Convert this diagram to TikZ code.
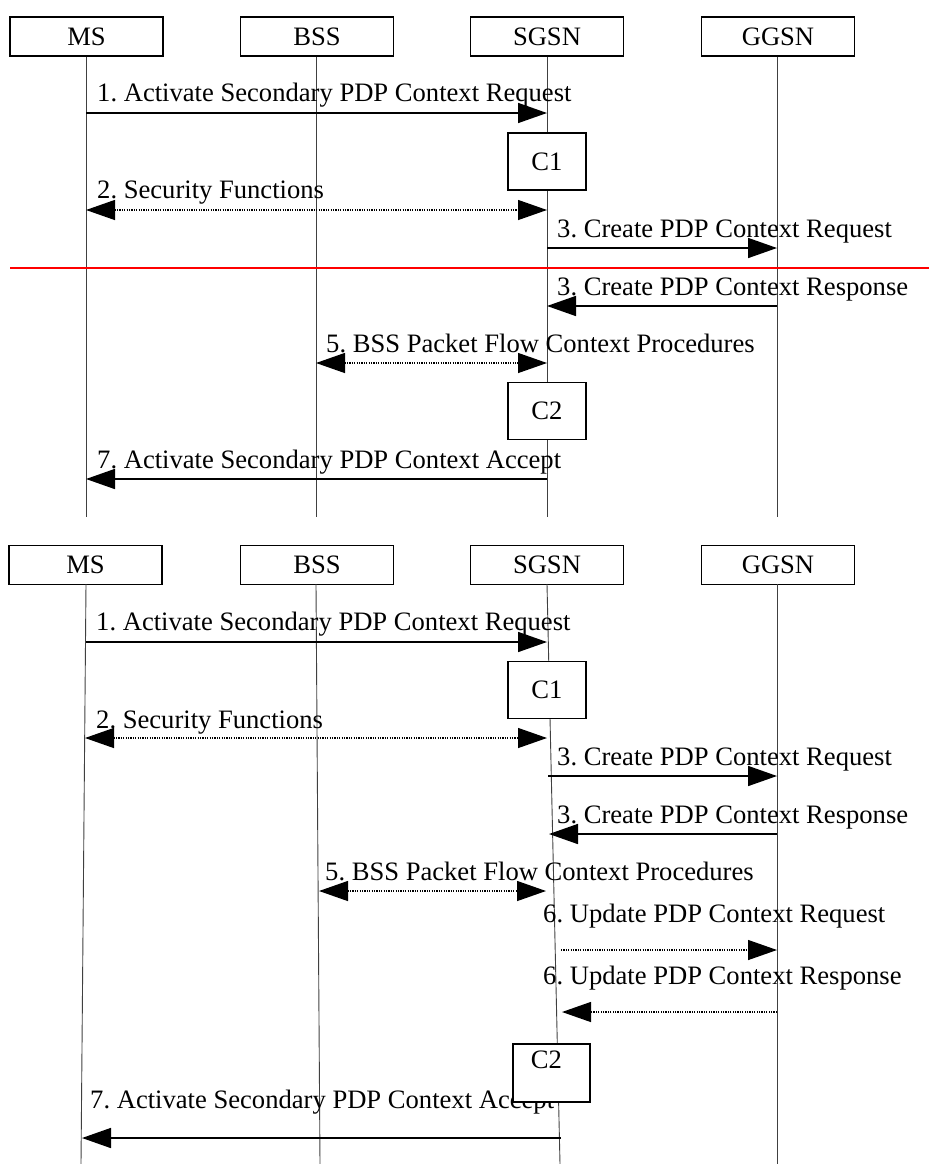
\documentclass[tikz,border=0pt]{standalone}
\usepackage{fontspec}
\setmainfont{Liberation Serif}
\usetikzlibrary{arrows.meta}
\frenchspacing
\begin{document}
\begin{tikzpicture}[x=1pt,y=-1pt,
  txt/.style={font=\fontsize{26.6}{31}\selectfont},
  actor/.style={txt, draw, line width=1.3pt, fill=white, inner sep=0pt,
                minimum width=153pt, minimum height=39pt},
  cbox/.style={txt, draw, line width=1.3pt, fill=white, inner sep=0pt,
               minimum width=78pt, minimum height=57pt},
  life/.style={line width=0.9pt, black!75},
  msg/.style={line width=1.6pt, -{Triangle[length=29pt,width=20pt]}},
  dmsg/.style={line width=1.3pt, dash pattern=on 1.2pt off 1.2pt,
               -{Triangle[length=29pt,width=20pt]}},
  ddmsg/.style={line width=1.3pt, dash pattern=on 1.2pt off 1.2pt,
               {Triangle[length=29pt,width=20pt]}-{Triangle[length=29pt,width=20pt]}},
  lbl/.style={txt, anchor=base west, inner sep=0pt},
  sep/.style={line width=1.5pt, red}
]
\useasboundingbox (0,0) rectangle (929,1164);

% ---------------- first sequence ----------------
\node[actor] (ms1)   at (86.5,36.5)  {MS};
\node[actor] (bss1)  at (317,36.5)   {BSS};
\node[actor] (sgsn1) at (547,36.5)   {SGSN};
\node[actor] (ggsn1) at (778,36.5)   {GGSN};

\coordinate (ms1e)   at (86,517);
\coordinate (bss1e)  at (316,517);
\coordinate (sgsn1e) at (547,517);
\coordinate (ggsn1e) at (777,517);

\draw[life] (ms1.south -| ms1e) -- (ms1e);
\draw[life] (bss1.south -| bss1e) -- (bss1e);
\draw[life] (sgsn1.south -| sgsn1e) -- (sgsn1e);
\draw[life] (ggsn1.south -| ggsn1e) -- (ggsn1e);

% message end points
\coordinate (a1s) at (86,113);  \coordinate (a1e) at (547,113);
\coordinate (a2s) at (86,210);  \coordinate (a2e) at (547,210);
\coordinate (a3s) at (547,248); \coordinate (a3e) at (777,248);
\coordinate (a4s) at (777,306); \coordinate (a4e) at (547,306);
\coordinate (a5s) at (316,363); \coordinate (a5e) at (547,363);
\coordinate (a7s) at (547,479); \coordinate (a7e) at (86,479);
\coordinate (rs) at (10,268);   \coordinate (re) at (929,268);

\node[lbl] (t1) at (97,101)  {1. Activate Secondary PDP Context Request};
\draw[msg] (a1s) -- (a1e);
\node[lbl] (t2) at (97,198)  {2. Security Functions};
\draw[ddmsg] (a2s) -- (a2e);
\node[lbl] (t3) at (557,237) {3. Create PDP Context Request};
\draw[msg] (a3s) -- (a3e);
\draw[sep] (rs) -- (re);
\node[lbl] (t4) at (557,295) {3. Create PDP Context Response};
\draw[msg] (a4s) -- (a4e);
\node[lbl] (t5) at (326,352) {5. BSS Packet Flow Context Procedures};
\draw[ddmsg] (a5s) -- (a5e);
\node[lbl] (t7) at (97,468)  {7. Activate Secondary PDP Context Accept};
\draw[msg] (a7s) -- (a7e);

\node[cbox] (c1a) at (547,161.5) {C1};
\node[cbox] (c2a) at (547,411)   {C2};

% ---------------- second sequence ----------------
\node[actor] (ms2)   at (85.5,565) {MS};
\node[actor] (bss2)  at (317,565)  {BSS};
\node[actor] (sgsn2) at (547,565)  {SGSN};
\node[actor] (ggsn2) at (778,565)  {GGSN};

\coordinate (ms2b)   at (86,584);  \coordinate (ms2e)   at (81,1164);
\coordinate (bss2b)  at (316,584); \coordinate (bss2e)  at (320,1164);
\coordinate (sgsn2b) at (547,584); \coordinate (sgsn2e) at (560,1164);
\coordinate (ggsn2b) at (777,584); \coordinate (ggsn2e) at (777,1164);

\draw[life] (ms2b) -- (ms2e);
\draw[life] (bss2b) -- (bss2e);
\draw[life] (sgsn2b) -- (sgsn2e);
\draw[life] (ggsn2b) -- (ggsn2e);

\coordinate (b1s) at (86,642);   \coordinate (b1e) at (547,642);
\coordinate (b2s) at (85,738);   \coordinate (b2e) at (547,738);
\coordinate (b3s) at (548,776);  \coordinate (b3e) at (777,776);
\coordinate (b4s) at (777,834);  \coordinate (b4e) at (549,834);
\coordinate (b5s) at (319,891);  \coordinate (b5e) at (546,891);
\coordinate (b6s) at (561,950);  \coordinate (b6e) at (777,950);
\coordinate (b8s) at (777,1012); \coordinate (b8e) at (562,1012);
\coordinate (b7s) at (561,1138); \coordinate (b7e) at (82,1138);

\node[lbl] (u1) at (96,630)  {1. Activate Secondary PDP Context Request};
\draw[msg] (b1s) -- (b1e);
\node[lbl] (u2) at (96,728)  {2. Security Functions};
\draw[ddmsg] (b2s) -- (b2e);
\node[lbl] (u3) at (557,765) {3. Create PDP Context Request};
\draw[msg] (b3s) -- (b3e);
\node[lbl] (u4) at (557,823) {3. Create PDP Context Response};
\draw[msg] (b4s) -- (b4e);
\node[lbl] (u5) at (325,880) {5. BSS Packet Flow Context Procedures};
\draw[ddmsg] (b5s) -- (b5e);
\node[lbl] (u6) at (543,922) {6. Update PDP Context Request};
\draw[dmsg] (b6s) -- (b6e);
\node[lbl] (u8) at (543,984) {6. Update PDP Context Response};
\draw[dmsg] (b8s) -- (b8e);
\node[lbl] (u7) at (90,1108) {7. Activate Secondary PDP Context Accept};
\draw[msg] (b7s) -- (b7e);

\node[cbox] (c1b) at (547,690) {C1};
\node[cbox, minimum width=77pt, minimum height=58pt] (c2b) at (551.5,1073) {};
\node[txt, anchor=base, inner sep=0pt] (c2bt) at (546.5,1068) {C2};
\end{tikzpicture}
\end{document}
